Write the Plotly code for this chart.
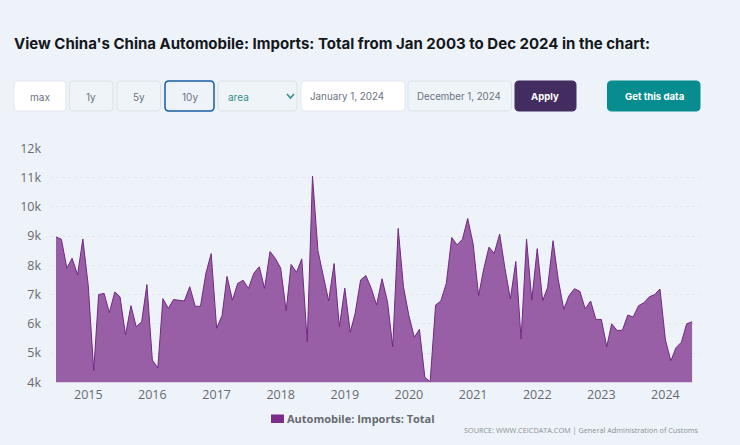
import pandas as pd
import plotly.graph_objects as go

W = 740
H = 445

# monthly values, Jul 2014 - Jun 2024
months = pd.date_range("2014-07-01", periods=120, freq="MS")
imports_total = [
    8970, 8890, 7900, 8240, 7670, 8900, 7300, 4400, 7000, 7040, 6380, 7090,
    6920, 5620, 6620, 5900, 6070, 7340, 4760, 4490, 6860, 6530, 6830, 6810,
    6780, 7270, 6600, 6600, 7730, 8400, 5850, 6280, 7620, 6810, 7380, 7490,
    7210, 7730, 7950, 7210, 8470, 8240, 7900, 6440, 8030, 7760, 8220, 5390,
    11050, 8500, 7640, 6780, 8060, 5900, 7220, 5710, 6360, 7500, 7650, 7210,
    6640, 7540, 6760, 5220, 9260, 7270, 6280, 5540, 5810, 4170, 4020, 6640,
    6780, 7380, 8950, 8700, 8890, 9600, 8730, 6960, 7840, 8620, 8410, 9070,
    7900, 6850, 8130, 5480, 8900, 6810, 8570, 6790, 7240, 8840, 7500, 6500,
    6960, 7200, 7110, 6510, 6780, 6150, 6150, 5220, 6000, 5770, 5780, 6300,
    6230, 6620, 6720, 6920, 7000, 7190, 5450, 4730, 5180, 5370, 6000, 6070,
]
y_ticks = [4000, 5000, 6000, 7000, 8000, 9000, 10000, 11000, 12000]

series_name = "Automobile: Imports: Total"
title_text = "View China's China Automobile: Imports: Total from Jan 2003 to Dec 2024 in the chart:"
source_text = "SOURCE: WWW.CEICDATA.COM | General Administration of Customs"

BG = "#eef3f9"
UI_FONT = "Inter"
CHART_FONT = "Open Sans"


def px_x(x):
    return x / W


def px_y(y):
    return 1 - y / H


def rounded(x0, y0, x1, y1, r=4):
    # rounded rectangle path, in paper coordinates
    def p(x, y):
        return f"{px_x(x):.5f},{px_y(y):.5f}"
    return (
        f"M{p(x0 + r, y0)} L{p(x1 - r, y0)} Q{p(x1, y0)} {p(x1, y0 + r)} "
        f"L{p(x1, y1 - r)} Q{p(x1, y1)} {p(x1 - r, y1)} "
        f"L{p(x0 + r, y1)} Q{p(x0, y1)} {p(x0, y1 - r)} "
        f"L{p(x0, y0 + r)} Q{p(x0, y0)} {p(x0 + r, y0)} Z"
    )


fig = go.Figure()

fig.add_trace(go.Scatter(
    x=months,
    y=imports_total,
    mode="lines",
    name=series_name,
    fill="tozeroy",
    fillcolor="rgba(123,45,139,0.75)",
    line=dict(color="#702a80", width=1),
    showlegend=False,
))

# controls row: label, x0, x1, fill, border, text colour, text centre, text size
controls = [
    ("max", 14, 66, "#ffffff", "#e3e8ee", "#6b7280", 39.5, 10),
    ("1y", 69.5, 113, "#eef4f8", "#d9e2ea", "#6b7280", 91, 10),
    ("5y", 117, 160.5, "#eef4f8", "#d9e2ea", "#6b7280", 138.5, 10),
    ("10y", 165, 214, "#eef3f9", "#1a5ca3", "#6b7280", 189.5, 10),
    ("area", 218, 297, "#eef4f8", "#d9e2ea", "#2f8f8a", 238.5, 10),
    ("January 1, 2024", 301, 405, "#ffffff", "#e3e8ee", "#6b7280", 347, 9.8),
    ("December 1, 2024", 408, 511.5, "#eef4f8", "#d9e2ea", "#6b7280", 459, 9.7),
    ("Apply", 515, 576, "#432c60", "#432c60", "#ffffff", 545, 9.6),
    ("Get this data", 607.5, 700, "#078d90", "#078d90", "#ffffff", 654, 9.6),
]

shapes = []
annotations = []

for label, x0, x1, fill, border, color, cx, size in controls:
    shapes.append(dict(
        type="path", xref="paper", yref="paper",
        path=rounded(x0, 81, x1, 111),
        fillcolor=fill,
        line=dict(color=border, width=1.5 if label == "10y" else 1),
    ))
    annotations.append(dict(
        text=f"<b>{label}</b>" if label in ("Apply", "Get this data") else label,
        x=px_x(cx), y=px_y(96.5), xref="paper", yref="paper",
        showarrow=False, xanchor="center", yanchor="middle",
        font=dict(family=UI_FONT, size=size, color=color),
    ))

# chevron of the select box
shapes.append(dict(
    type="path", xref="paper", yref="paper",
    path=f"M{px_x(287):.5f},{px_y(94):.5f} L{px_x(290.5):.5f},{px_y(98):.5f} L{px_x(294):.5f},{px_y(94):.5f}",
    line=dict(color="#2f8f8a", width=1.5),
))

# legend swatch
shapes.append(dict(
    type="rect", xref="paper", yref="paper",
    x0=px_x(271), x1=px_x(284), y0=px_y(423), y1=px_y(414.5),
    fillcolor="#7b2d8b", line=dict(width=0),
))

annotations.append(dict(
    text=f"<b>{title_text}</b>",
    x=px_x(11.5), y=px_y(43), xref="paper", yref="paper",
    showarrow=False, xanchor="left", yanchor="middle",
    font=dict(family=UI_FONT, size=15, color="#14171c"),
))
annotations.append(dict(
    text=f"<b>{series_name}</b>",
    x=px_x(285), y=px_y(418.5), xref="paper", yref="paper",
    showarrow=False, xanchor="left", yanchor="middle",
    font=dict(family=CHART_FONT, size=11, color="#666a70"),
))
annotations.append(dict(
    text=source_text,
    x=px_x(701), y=px_y(430), xref="paper", yref="paper",
    showarrow=False, xanchor="right", yanchor="middle",
    font=dict(family=CHART_FONT, size=7.3, color="#8a8f96"),
))

fig.update_layout(
    width=W,
    height=H,
    autosize=False,
    margin=dict(l=0, r=0, t=0, b=0, autoexpand=False),
    paper_bgcolor=BG,
    plot_bgcolor=BG,
    showlegend=False,
    shapes=shapes,
    annotations=annotations,
    xaxis=dict(
        domain=[px_x(50), px_x(700)],
        range=["2014-05-28", "2024-07-16"],
        tick0="2015-01-01",
        dtick="M12",
        tickformat="%Y",
        ticks="",
        showgrid=False,
        showline=False,
        zeroline=False,
        ticklabelstandoff=3,
        tickfont=dict(family=CHART_FONT, size=12.5, color="#666a70"),
    ),
    yaxis=dict(
        domain=[px_y(382.3), px_y(148.3)],
        range=[4000, 12000],
        tickvals=y_ticks,
        tickformat="~s",
        ticks="",
        gridcolor="#e4e8ec",
        griddash="dot",
        gridwidth=1,
        showline=False,
        zeroline=False,
        ticklabelstandoff=8,
        tickfont=dict(family=CHART_FONT, size=12.5, color="#666a70"),
    ),
)

fig.write_html(
    "out.html",
    config={"displayModeBar": False},
    post_script="document.body.style.margin='0';",
)
